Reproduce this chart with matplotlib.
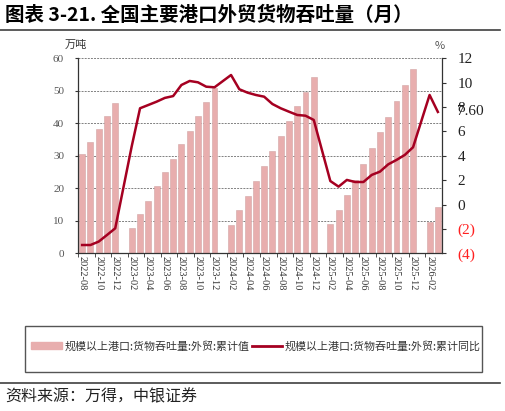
import numpy as np
import pandas as pd
import matplotlib
matplotlib.use('Agg')
import matplotlib.pyplot as plt
from matplotlib.patches import Rectangle
from matplotlib.lines import Line2D

plt.rcParams['font.family'] = ['Noto Sans CJK SC', 'DejaVu Sans']

# ---- data ----
months = pd.period_range('2022-08', '2026-03', freq='M').strftime('%Y-%m').tolist()
nan = np.nan
cum_value = [30.6, 34.3, 38.3, 42.3, 46.3,
             nan, 7.7, 12.1, 16.1, 20.6, 24.9, 29.0, 33.5, 37.7, 42.2, 46.6, 50.8,
             nan, 8.7, 13.2, 17.6, 22.3, 27.0, 31.5, 36.1, 40.7, 45.3, 49.6, 54.1,
             nan, 8.9, 13.3, 18.0, 22.7, 27.5, 32.3, 37.3, 42.0, 46.9, 51.8, 56.6,
             nan, 9.6, 14.3]
cum_yoy = [-3.32, -3.32, -3.04, -2.50, -1.95,
           nan, 4.8, 7.9, 8.17, 8.44, 8.75, 8.9, 9.81, 10.14, 10.03, 9.67, 9.62,
           nan, 10.63, 9.46, 9.18, 8.99, 8.85, 8.25, 7.9, 7.62, 7.35, 7.29, 6.94,
           nan, 1.93, 1.47, 2.02, 1.85, 1.85, 2.43, 2.7, 3.3, 3.66, 4.07, 4.7,
           nan, 8.99, 7.60]
left_ticks = [0, 10, 20, 30, 40, 50, 60]
right_ticks = [12, 10, 8, 6, 4, 2, 0, -2, -4]
right_labels = ['12', '10', '8', '6', '4', '2', '0', '(2)', '(4)']
last_label = '7.60'

bar_name = '规模以上港口:货物吞吐量:外贸:累计值'
line_name = '规模以上港口:货物吞吐量:外贸:累计同比'
title = '图表 3-21. 全国主要港口外贸货物吞吐量（月）'
source = '资料来源：万得，中银证券'

bar_color = '#E8AEAE'
line_color = '#A50021'
serif = ['Liberation Serif', 'DejaVu Serif']

x = np.arange(len(months))
vals = np.array(cum_value, dtype=float)
yoy = np.array(cum_yoy, dtype=float)

fig = plt.figure(figsize=(5.05, 4.11), dpi=100)
ax = fig.add_axes([78/505, 1-253.3/411, 364/505, 195/411])

ok = ~np.isnan(vals)
ax.bar(x[ok], vals[ok], width=0.72, color=bar_color, edgecolor='#d2a5a5', linewidth=0.4, zorder=2)
ax.set_xlim(-0.5, len(months) - 0.5)
ax.set_ylim(0, 60)
ax.set_yticks(left_ticks)
ax.set_yticklabels([str(t) for t in left_ticks], family=serif, fontsize=8, color='#555555')
for t in left_ticks[1:]:
    ax.axhline(t, color='#808080', lw=0.7, ls=(0, (2, 1.2)), zorder=1)

ax.set_xticks(x[::2])
ax.set_xticklabels(months[::2], rotation=270, family=serif, fontsize=7.5, color='#333333')
ax.set_xticks(x[::2] - 0.5, minor=True)
ax.tick_params(axis='x', which='major', length=0, pad=2)
ax.tick_params(axis='x', which='minor', length=3, color='#333333')
ax.tick_params(axis='y', length=2, pad=8, color='#333333')
ax.spines['top'].set_visible(False)
ax.spines['right'].set_visible(False)
for s in ['left', 'bottom']:
    ax.spines[s].set_color('#333333')
    ax.spines[s].set_linewidth(0.9)

ax2 = ax.twinx()
okl = ~np.isnan(yoy)
ax2.plot(x[okl], yoy[okl], color=line_color, lw=1.8, zorder=3)
ax2.set_ylim(-4, 12)
ax2.set_yticks(right_ticks)
ax2.set_yticklabels(right_labels, family=serif, fontsize=11)
for lab, t in zip(ax2.get_yticklabels(), right_ticks):
    lab.set_color('#FF2020' if t < 0 else '#222222')
ax2.tick_params(axis='y', length=3, pad=8, color='#333333')
for s in ['top', 'left', 'bottom']:
    ax2.spines[s].set_visible(False)
ax2.spines['right'].set_color('#333333')
ax2.spines['right'].set_linewidth(0.9)
ax2.annotate(last_label, xy=(1, yoy[-1]), xycoords=('axes fraction', 'data'),
             xytext=(11, 0), textcoords='offset points', ha='left', va='center',
             family=serif, fontsize=11, color='#222222')

fig.text(65/505, 1-45/411, '万吨', fontsize=8, color='#333333', ha='left', va='center')
fig.text(440/505, 1-46/411, '%', fontsize=8, color='#555555', ha='center', va='center')

# title and rules
fig.text(5/505, 1-15/411, title, fontsize=14, fontweight='bold', ha='left', va='center')
fig.add_artist(Line2D([0, 500/505], [1-30.5/411, 1-30.5/411], color='#404040', lw=1.2))
fig.add_artist(Line2D([0, 500/505], [1-383/411, 1-383/411], color='#404040', lw=1.2))
fig.text(5/505, 1-397/411, source, fontsize=11.5, ha='left', va='center', color='#222222')

# legend box
fig.add_artist(Rectangle((25/505, 1-372/411), 457/505, 46.5/411, fill=False,
                         edgecolor='#555555', lw=1.0, transform=fig.transFigure))
handles = [Rectangle((0, 0), 1, 1, color=bar_color),
           Line2D([0], [0], color=line_color, lw=2)]
fig.legend(handles, [bar_name, line_name], loc='center', bbox_to_anchor=(256/505, 1-346/411),
           ncol=2, frameon=False, fontsize=7.9, handlelength=2.8, handleheight=0.6,
           handletextpad=0.25, columnspacing=0.2, labelcolor='#333333')

fig.savefig('out.png', dpi=100)
